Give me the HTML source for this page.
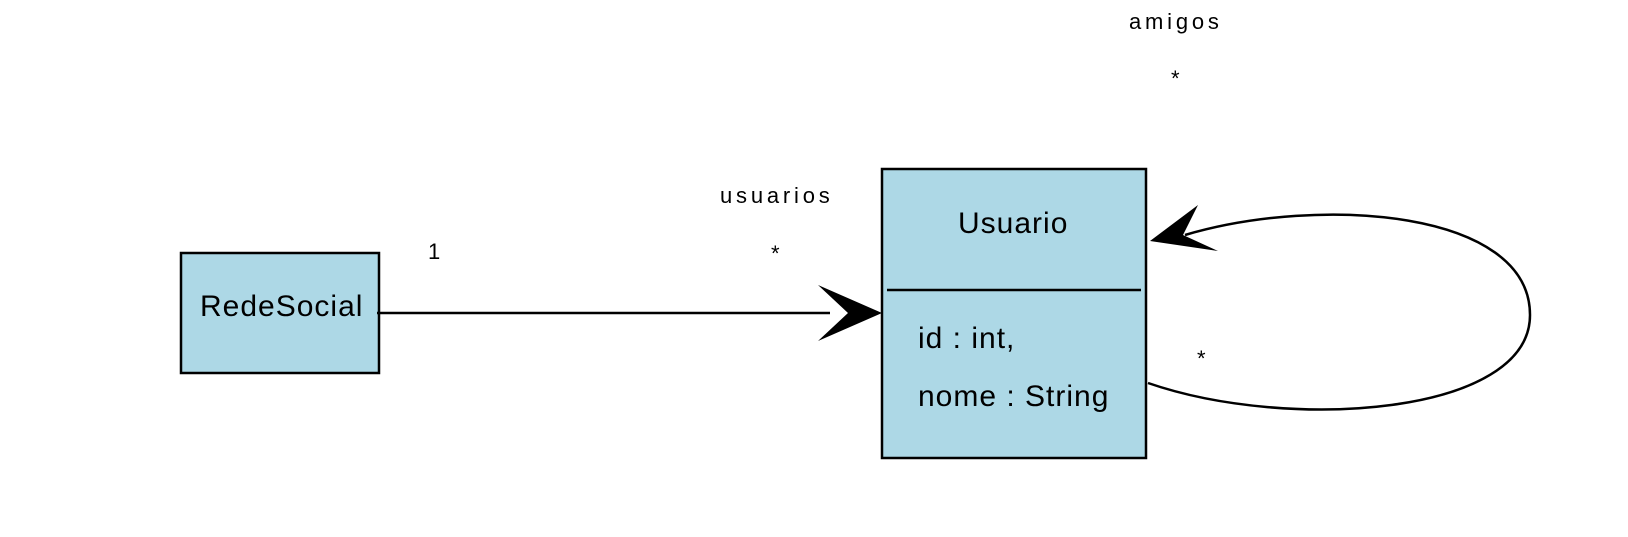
<!DOCTYPE html>
<html><head><style>body{margin:0;background:#fff}svg{display:block}text{font-family:"Liberation Sans",sans-serif;fill:#000}.s{font-size:22px;letter-spacing:3.8px}.b{font-size:30px;letter-spacing:1px}</style></head><body>
<svg width="1628" height="537" viewBox="0 0 1628 537" xmlns="http://www.w3.org/2000/svg">
<rect x="181" y="253" width="198" height="120" fill="#add8e6" stroke="#000" stroke-width="2.5"/>
<text x="200" y="316" class="b">RedeSocial</text>
<rect x="882" y="169" width="264" height="289" fill="#add8e6" stroke="#000" stroke-width="2.5"/>
<line x1="887" y1="290" x2="1141" y2="290" stroke="#000" stroke-width="2.5"/>
<text x="958" y="233" class="b">Usuario</text>
<text x="918" y="348" class="b">id : int,</text>
<text x="918" y="406" class="b">nome : String</text>
<line x1="377" y1="313" x2="830" y2="313" stroke="#000" stroke-width="2.5"/>
<polygon points="882,313 818,285 848,313 818,341" fill="#000"/>
<path d="M1148,383 C1290,432 1530,415 1530,315 C1530,210 1320,195 1185,235" fill="none" stroke="#000" stroke-width="2.5"/>
<polygon points="1150,241 1198,205 1183,235 1218,251" fill="#000"/>
<text x="428" y="259" class="s">1</text>
<text x="720" y="203" class="s">usuarios</text>
<text x="771" y="261" class="s">*</text>
<text x="1129" y="29" class="s">amigos</text>
<text x="1171" y="86" class="s">*</text>
<text x="1197" y="366" class="s">*</text>
</svg>
</body></html>
